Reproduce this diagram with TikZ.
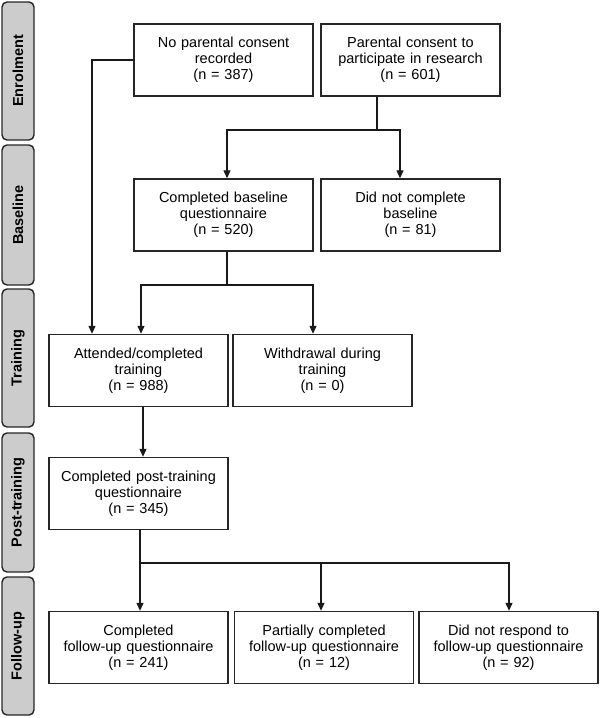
\documentclass[tikz,border=0pt]{standalone}
\usepackage{fontspec}
\setmainfont{Liberation Sans}
\usepackage{tikz}
\usetikzlibrary{positioning,arrows.meta,calc}
\definecolor{stagegray}{rgb}{0.80,0.80,0.80}
\tikzstyle{box}=[%
      rectangle, draw=black!85, line width=1.4pt, fill=white,
      minimum width=179pt, minimum height=72pt, text width=176pt,
      inner sep=1pt, align=center, font=\fontsize{14.5}{16}\selectfont
]
\tikzstyle{stage}=[%
      rectangle, rounded corners=5pt, draw=black!85, line width=1.4pt, fill=stagegray,
      rotate=90, minimum height=32pt, inner sep=0pt,
      font=\fontsize{14.5}{16}\selectfont\bfseries
]
\tikzstyle{link}=[line width=1.3pt, draw=black!90]

\begin{document}
\begin{tikzpicture}[x=1pt, y=-1pt,
    >={Triangle[length=8pt,width=7pt]}
  ]
    \useasboundingbox (0,0) rectangle (600,718);

    % stages
    \node[stage, minimum width=138pt] (enrol)  at (18,71)    {Enrolment};
    \node[stage, minimum width=140pt] (basel)  at (18,215)   {Baseline};
    \node[stage, minimum width=138pt] (train)  at (18,358)   {Training};
    \node[stage, minimum width=139pt] (postt)  at (18,502.5) {Post-training};
    \node[stage, minimum width=138pt] (follow) at (18,646)   {Follow-up};

    % boxes
    \node[box] (nocons)   at (223.5,60)    {No parental consent\\recorded\\(n = 387)};
    \node[box] (cons)     at (410.5,60)    {Parental consent to\\participate in research\\(n = 601)};
    \node[box] (base)     at (223.5,215)   {Completed baseline\\questionnaire\\(n = 520)};
    \node[box] (nobase)   at (410.5,215)   {Did not complete\\baseline\\(n = 81)};
    \node[box] (attend)   at (138.5,370.5) {Attended/completed\\training\\(n = 988)};
    \node[box] (withdraw) at (322.5,370.5) {Withdrawal during\\training\\(n = 0)};
    \node[box] (post)     at (138.5,493.5) {Completed post-training\\questionnaire\\(n = 345)};
    \node[box] (fucomp)   at (138.5,647.5) {Completed\\follow-up questionnaire\\(n = 241)};
    \node[box] (fupart)   at (324,647.5)   {Partially completed\\follow-up questionnaire\\(n = 12)};
    \node[box] (funone)   at (508.5,647.5) {Did not respond to\\follow-up questionnaire\\(n = 92)};

    \coordinate (split1) at (377,130);
    \coordinate (split2) at (227,285);
    \coordinate (split3) at (140,563);

    % connectors
    \draw[link, ->] (nocons.west) -| ([xshift=-46.5pt]attend.north);
    \draw[link] ([xshift=-33.5pt]cons.south) -- (split1);
    \draw[link, ->] (split1) -| ([xshift=3.5pt]base.north);
    \draw[link, ->] (split1) -| ([xshift=-10.5pt]nobase.north);
    \draw[link] ([xshift=3.5pt]base.south) -- (split2);
    \draw[link, ->] (split2) -| ([xshift=2.5pt]attend.north);
    \draw[link, ->] (split2) -| ([xshift=-9.5pt]withdraw.north);
    \draw[link, ->] ([xshift=4.5pt]attend.south) -- ([xshift=4.5pt]post.north);
    \draw[link] ([xshift=1.5pt]post.south) -- (split3);
    \draw[link, ->] (split3) -- ([xshift=1.5pt]fucomp.north);
    \draw[link, ->] (split3) -| ([xshift=-3pt]fupart.north);
    \draw[link, ->] (split3) -| ([xshift=0.5pt]funone.north);
\end{tikzpicture}
\end{document}
